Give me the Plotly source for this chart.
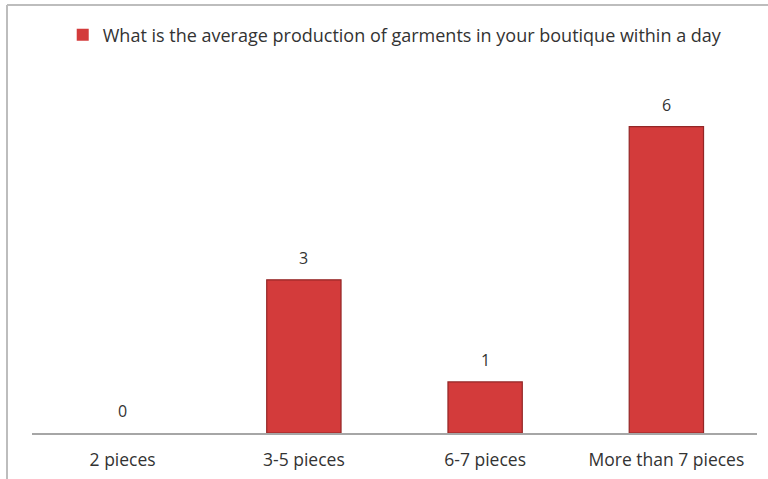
import plotly.graph_objects as go

# Survey responses: daily garment output per boutique
categories = ["2 pieces", "3-5 pieces", "6-7 pieces", "More than 7 pieces"]
counts = [0, 3, 1, 6]
series_name = "What is the average production of garments in your boutique within a day"

W, H = 768, 479
ML, MR, MT, MB = 32, 11, 96, 46
plot_w = W - ML - MR
plot_h = H - MT - MB

fig = go.Figure()
fig.add_trace(go.Bar(
    x=categories,
    y=counts,
    name=series_name,
    showlegend=True,
    marker=dict(color="#D33B3B",
                line=dict(color="#932626", width=[1.2 if v > 0 else 0 for v in counts])),
))

# value labels above each bar
for cat, val in zip(categories, counts):
    fig.add_annotation(x=cat, y=val, text=str(val), showarrow=False,
                       yshift=22, font=dict(family="Open Sans", size=16, color="#333333"))

# chart frame (top and left edges)
fig.add_shape(type="line", xref="paper", yref="paper",
              x0=(7 - ML) / plot_w, x1=(W - ML) / plot_w,
              y0=1 + (MT - 5) / plot_h, y1=1 + (MT - 5) / plot_h,
              line=dict(color="#BDBDBD", width=2))
fig.add_shape(type="line", xref="paper", yref="paper",
              x0=(7 - ML) / plot_w, x1=(7 - ML) / plot_w,
              y0=1 + (MT - 5) / plot_h, y1=-(MB + 5) / plot_h,
              line=dict(color="#BDBDBD", width=2))

fig.update_layout(
    width=W, height=H,
    margin=dict(l=ML, r=MR, t=MT, b=MB, autoexpand=False),
    paper_bgcolor="white", plot_bgcolor="white",
    bargap=0.59,
    font=dict(family="Open Sans", color="#333333"),
    legend=dict(orientation="h", x=0.501, xanchor="center",
                y=1 + (MT - 35) / plot_h, yanchor="middle",
                font=dict(size=18, color="#333333"),
                itemwidth=30),
    xaxis=dict(showline=True, linecolor="#A6A6A6", linewidth=1.5,
               ticks="outside", ticklen=10, tickcolor="rgba(0,0,0,0)",
               tickfont=dict(size=17.5, color="#333333"), showgrid=False,
               automargin=False, fixedrange=True),
    yaxis=dict(range=[0, 6.6], visible=False, showgrid=False, fixedrange=True),
)

fig.write_html("out.html")
